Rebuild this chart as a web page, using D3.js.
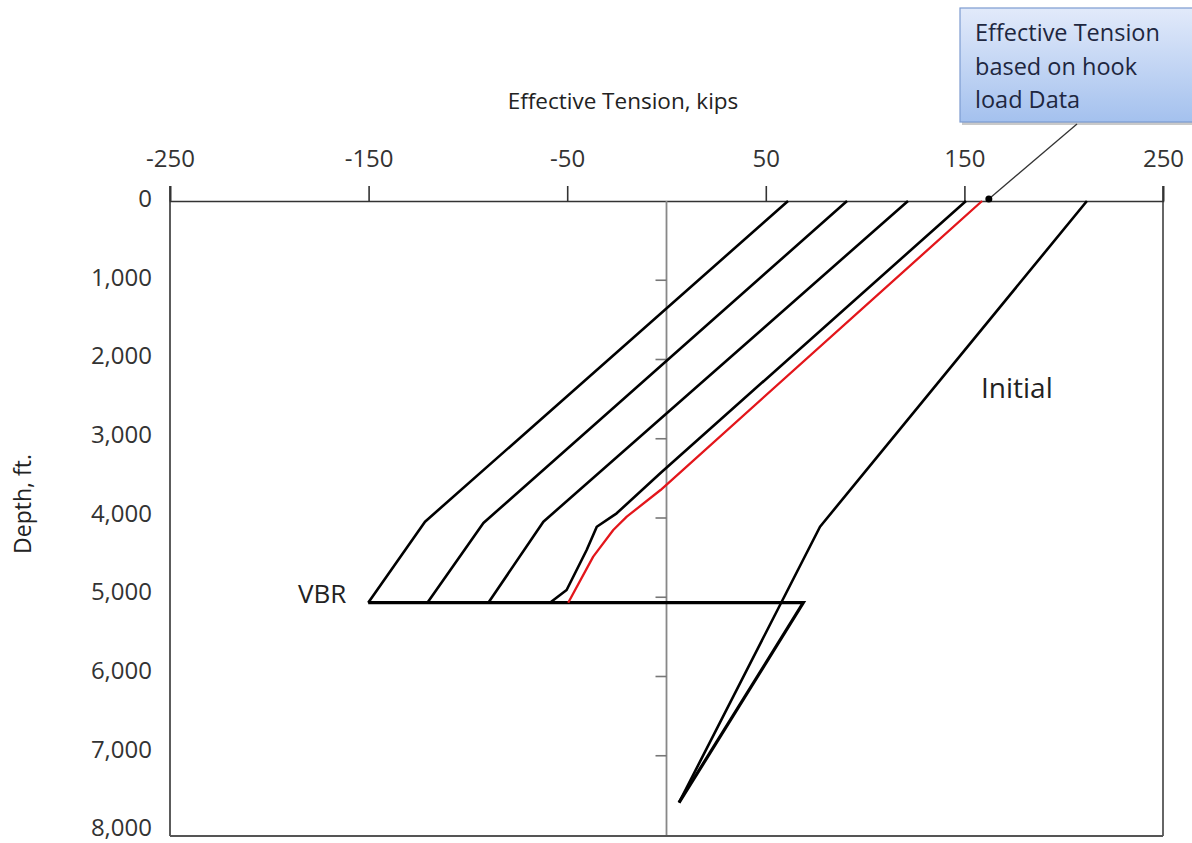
<!DOCTYPE html>
<html>
<head>
<meta charset="utf-8">
<script src="https://cdn.jsdelivr.net/npm/d3@7"></script>
<style>
  body { margin: 0; background: #fff; }
  text { font-family: "Open Sans", sans-serif; }
</style>
</head>
<body>
<div id="chart"></div>
<script>
// values: [tension kips, depth ft]
var tensionTicks = [-250, -150, -50, 50, 150, 250];
var depthTicks = [0, 1000, 2000, 3000, 4000, 5000, 6000, 7000, 8000];
var minorDepthTicks = [1000, 2000, 3000, 4000, 5000, 6000, 7000];

var vbrDepth = 5069;
var lowerLeg = [[68.9, vbrDepth], [6.3, 7592]];

var case1 = [[61.2, 0], [-121.6, 4047], [-150.2, vbrDepth]];
var case2 = [[90.9, 0], [-92.2, 4063], [-120.4, vbrDepth]];
var case3 = [[121.6, 0], [-62.0, 4047], [-89.7, vbrDepth]];
var case4 = [[150.8, 0], [-3.0, 3432], [-25.1, 3941], [-35.1, 4110], [-40.2, 4404], [-50.3, 4908], [-58.7, vbrDepth]];
var hookLoad = [[158.9, 0], [-3.0, 3647], [-20.0, 3983], [-26.8, 4151], [-36.9, 4488], [-49.5, vbrDepth]];
var initial = [[211.7, 0], [77.3, 4110], [6.3, 7592]];
var hookPoint = [162.3, 0];

var W = 1192, H = 843;

var svg = d3.select("#chart")
  .append("svg")
  .attr("width", W)
  .attr("height", H);

var x = d3.scaleLinear().domain([-250, 250]).range([170, 1163]);
var y = d3.scaleLinear().domain([0, 8000]).range([201, 835]);
// the depth labels sit a little above their depths in the original
var yLabel = d3.scaleLinear().domain([0, 8000]).range([199, 828]);

var line = d3.line()
  .x(function(d) { return x(d[0]); })
  .y(function(d) { return y(d[1]); });

// frame
svg.append("line")
  .attr("x1", x(-250)).attr("x2", x(-250))
  .attr("y1", y(0) - 15).attr("y2", y(8000) + 1)
  .style("stroke", "#333").style("stroke-width", 1.6);
svg.append("line")
  .attr("x1", x(250)).attr("x2", x(250))
  .attr("y1", y(0) - 15).attr("y2", y(8000) + 1)
  .style("stroke", "#666").style("stroke-width", 2);
svg.append("line")
  .attr("x1", x(-250)).attr("x2", x(250))
  .attr("y1", y(8000) + 1).attr("y2", y(8000) + 1)
  .style("stroke", "#555").style("stroke-width", 2);

// top axis
var xAxis = svg.append("g")
  .attr("transform", "translate(0," + y(0) + ")")
  .call(d3.axisTop(x).tickValues(tensionTicks).tickSize(15).tickPadding(19)
    .tickFormat(function(d) { return String(d); }));
xAxis.select(".domain").style("stroke", "#333").style("stroke-width", 1.6);
xAxis.selectAll(".tick line").style("stroke", "#333").style("stroke-width", 1.6);
xAxis.selectAll("text")
  .style("font-size", "24px")
  .style("fill", "#333")
  .style("font-family", "'Open Sans', sans-serif");

// depth labels
var yAxis = svg.append("g")
  .attr("transform", "translate(" + x(-250) + ",0)")
  .call(d3.axisLeft(yLabel).tickValues(depthTicks).tickSize(0).tickPadding(18).tickFormat(d3.format(",")));
yAxis.select(".domain").remove();
yAxis.selectAll("text")
  .style("font-size", "24px")
  .style("fill", "#333")
  .style("font-family", "'Open Sans', sans-serif");

// zero line with small ticks
svg.append("line")
  .attr("x1", x(0)).attr("x2", x(0))
  .attr("y1", y(0)).attr("y2", y(8000))
  .style("stroke", "#888").style("stroke-width", 1.8);
svg.selectAll(".zt")
  .data(minorDepthTicks)
  .enter().append("line")
  .attr("x1", x(0) - 11).attr("x2", x(0))
  .attr("y1", function(d) { return y(d); })
  .attr("y2", function(d) { return y(d); })
  .style("stroke", "#777").style("stroke-width", 1.6);

// titles
svg.append("text")
  .attr("x", 623)
  .attr("y", 109)
  .style("font-size", "22.5px")
  .style("text-anchor", "middle")
  .style("fill", "#222")
  .text("Effective Tension, kips");

svg.append("text")
  .attr("transform", "translate(31,504) rotate(-90)")
  .style("font-size", "23px")
  .style("text-anchor", "middle")
  .style("fill", "#222")
  .text("Depth, ft.");

// curves
var blackCases = [case1, case2, case3, case4];
svg.selectAll(".case")
  .data(blackCases)
  .enter().append("path")
  .attr("d", function(d) { return line(d); })
  .style("fill", "none")
  .style("stroke", "#000")
  .style("stroke-width", 2.6)
  .style("stroke-linejoin", "round");

svg.append("path")
  .attr("d", line([case1[case1.length - 1]].concat(lowerLeg)))
  .style("fill", "none")
  .style("stroke", "#000")
  .style("stroke-width", 3.2)
  .style("stroke-linejoin", "miter");

svg.append("path")
  .attr("d", line(initial))
  .style("fill", "none")
  .style("stroke", "#000")
  .style("stroke-width", 2.6)
  .style("stroke-linejoin", "round");

svg.append("path")
  .attr("d", line(hookLoad))
  .style("fill", "none")
  .style("stroke", "#e3161b")
  .style("stroke-width", 2.3)
  .style("stroke-linejoin", "round");

// labels
svg.append("text")
  .attr("x", 298)
  .attr("y", 603)
  .style("font-size", "26px")
  .style("fill", "#222")
  .text("VBR");

svg.append("text")
  .attr("x", 981)
  .attr("y", 398)
  .style("font-size", "28px")
  .style("fill", "#222")
  .text("Initial");

// callout
var defs = svg.append("defs");
var grad = defs.append("linearGradient")
  .attr("id", "boxGrad")
  .attr("x1", 0).attr("y1", 0).attr("x2", 0).attr("y2", 1);
grad.append("stop").attr("offset", "0%").style("stop-color", "#e2eafa");
grad.append("stop").attr("offset", "100%").style("stop-color", "#a4c1ee");

svg.append("rect")
  .attr("x", 962).attr("y", 10)
  .attr("width", 260).attr("height", 115)
  .style("fill", "#c9c9c9");
svg.append("rect")
  .attr("x", 960).attr("y", 8)
  .attr("width", 260).attr("height", 114)
  .style("fill", "url(#boxGrad)")
  .style("stroke", "#7c9bd0")
  .style("stroke-width", 1.2);

var callLines = ["Effective Tension", "based on hook", "load Data"];
svg.selectAll(".call")
  .data(callLines)
  .enter().append("text")
  .attr("x", 975)
  .attr("y", function(d, i) { return 41 + i * 33.5; })
  .style("font-size", "23.5px")
  .style("fill", "#1e2740")
  .text(function(d) { return d; });

svg.append("line")
  .attr("x1", 1077).attr("y1", 124)
  .attr("x2", x(hookPoint[0])).attr("y2", y(hookPoint[1]) - 2)
  .style("stroke", "#333").style("stroke-width", 1.3);
svg.append("circle")
  .attr("cx", x(hookPoint[0]))
  .attr("cy", y(hookPoint[1]) - 2)
  .attr("r", 3.5)
  .style("fill", "#000");
</script>
</body>
</html>
